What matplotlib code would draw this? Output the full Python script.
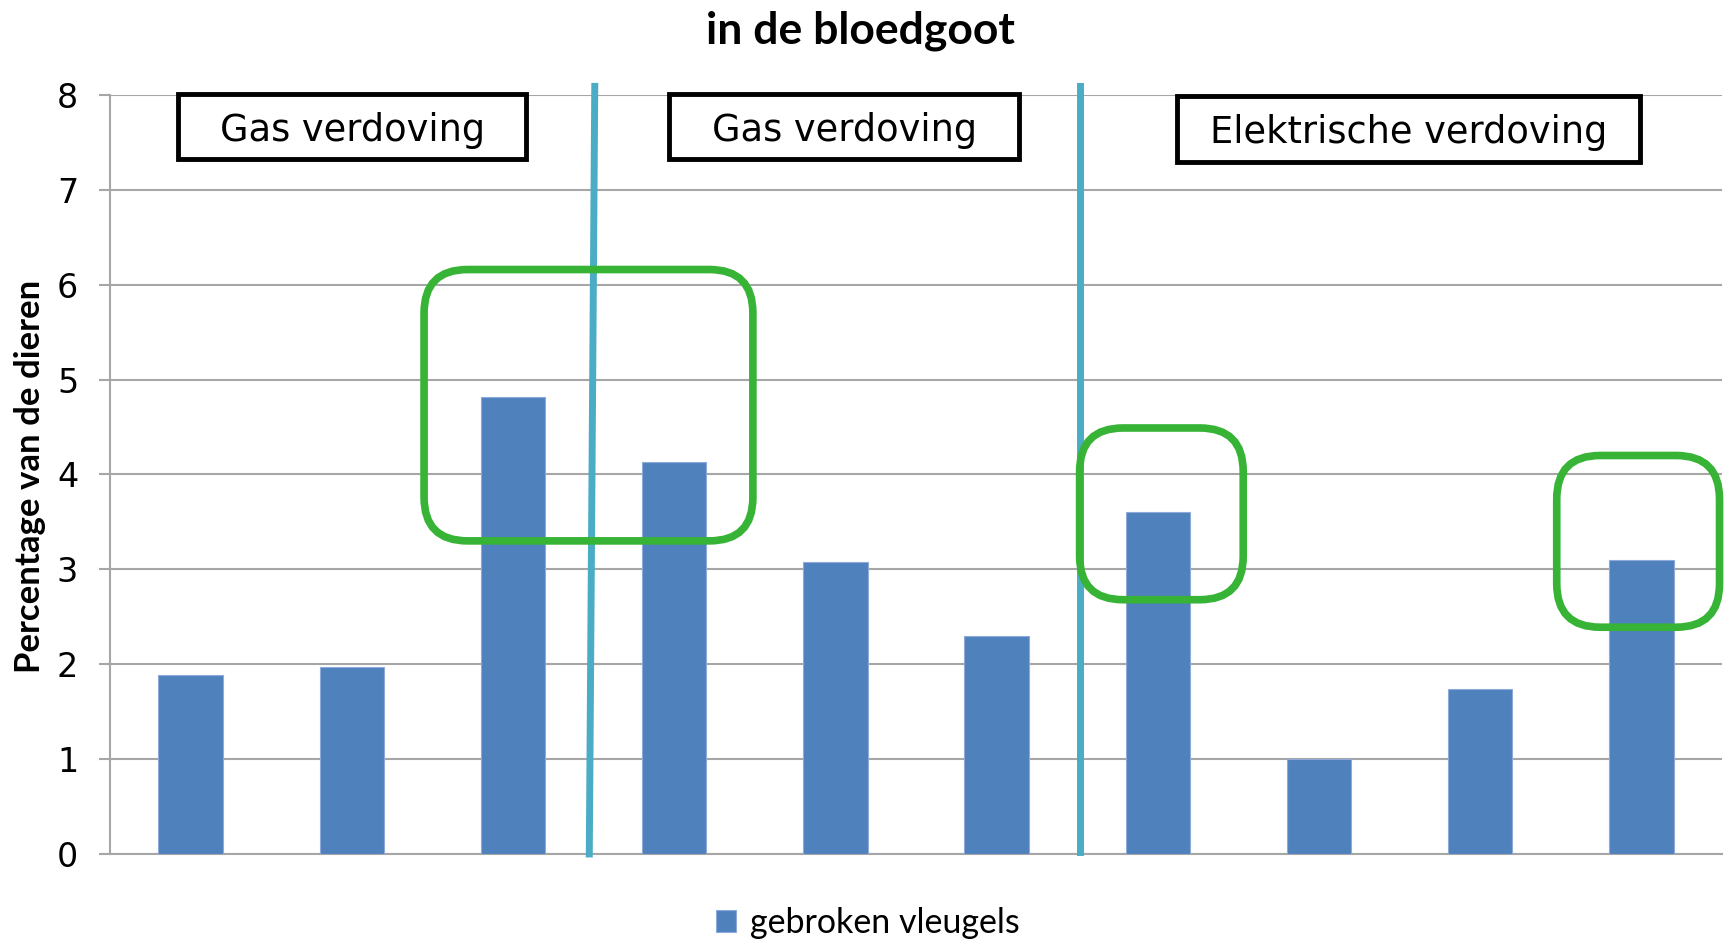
import matplotlib
matplotlib.use('Agg')
import matplotlib.pyplot as plt
from matplotlib.patches import FancyBboxPatch, Rectangle

# data
values = [1.89, 1.97, 4.82, 4.13, 3.08, 2.30, 3.60, 1.00, 1.74, 3.10]
series_name = 'gebroken vleugels'
group_labels = ['Gas verdoving', 'Gas verdoving', 'Elektrische verdoving']
yticks = [0, 1, 2, 3, 4, 5, 6, 7, 8]

bar_color = '#4F81BD'
green = '#37B336'
cyan = '#4BACC6'

fig = plt.figure(figsize=(17.28, 9.40), dpi=100)
ax = fig.add_axes([0.0637, 0.0915, 0.9328, 0.8075])

x = list(range(len(values)))
ax.bar(x, values, width=0.4, color=bar_color, edgecolor='#8EAADB', linewidth=0.8,
       label=series_name, zorder=3)

ax.set_xlim(-0.5, len(values) - 0.5)
ax.set_ylim(0, 8)
ax.set_yticks(yticks)
ax.set_yticklabels([str(t) for t in yticks], fontsize=24, family='DejaVu Sans')
ax.set_xticks([])
ax.yaxis.grid(True, color='#A6A6A6', linewidth=1.5, zorder=0)
ax.set_axisbelow(True)
for s in ['top', 'right']:
    ax.spines[s].set_visible(False)
ax.spines['left'].set_color('#A6A6A6')
ax.spines['bottom'].set_color('#A6A6A6')
ax.spines['left'].set_linewidth(1.5)
ax.spines['bottom'].set_linewidth(1.5)
ax.tick_params(axis='y', length=8, width=1.5, color='#A6A6A6', pad=15)

fig.text(0.0174, 0.4936, 'Percentage van de dieren', rotation=90, ha='center',
         va='center', fontsize=25, family='Lato', fontweight='bold')
fig.text(0.498, 0.967, 'in de bloedgoot', ha='center', va='center',
         fontsize=32, family='Lato', fontweight='bold')

# separators between groups
ax.plot([2.507, 2.473], [8.09, 0], color=cyan, lw=5, clip_on=False, zorder=4)
ax.plot([5.52, 5.52], [8.09, 0.02], color=cyan, lw=5, clip_on=False, zorder=4)

# group label boxes
boxes = [(-0.076, 7.33, 2.156, 0.68), (2.97, 7.33, 2.17, 0.68), (6.12, 7.29, 2.87, 0.70)]
for (bx, by, bw, bh), lab in zip(boxes, group_labels):
    ax.add_patch(Rectangle((bx, by), bw, bh, facecolor='white', edgecolor='black',
                           lw=3.5, zorder=5, clip_on=False))
    ax.text(bx + bw / 2, by + bh / 2 - 0.04, lab, ha='center', va='center', fontsize=26.5,
            family='DejaVu Sans', zorder=6)

# green highlight boxes
highlights = [(1.448, 3.30, 2.04, 2.86), (5.515, 2.68, 1.015, 1.81), (8.475, 2.39, 1.01, 1.81)]
for hx, hy, hw, hh in highlights:
    ax.add_patch(FancyBboxPatch((hx, hy), hw, hh,
                                boxstyle='round,pad=0,rounding_size=0.27',
                                mutation_aspect=1.70, facecolor='none',
                                edgecolor=green, lw=5.5, zorder=6, clip_on=False))

fig.legend(loc='center', bbox_to_anchor=(0.502, 0.018), frameon=False,
           handlelength=0.6, handleheight=0.6, handletextpad=0.4,
           prop={'family': 'Lato', 'size': 24.5})

fig.savefig('out.png', dpi=100)
